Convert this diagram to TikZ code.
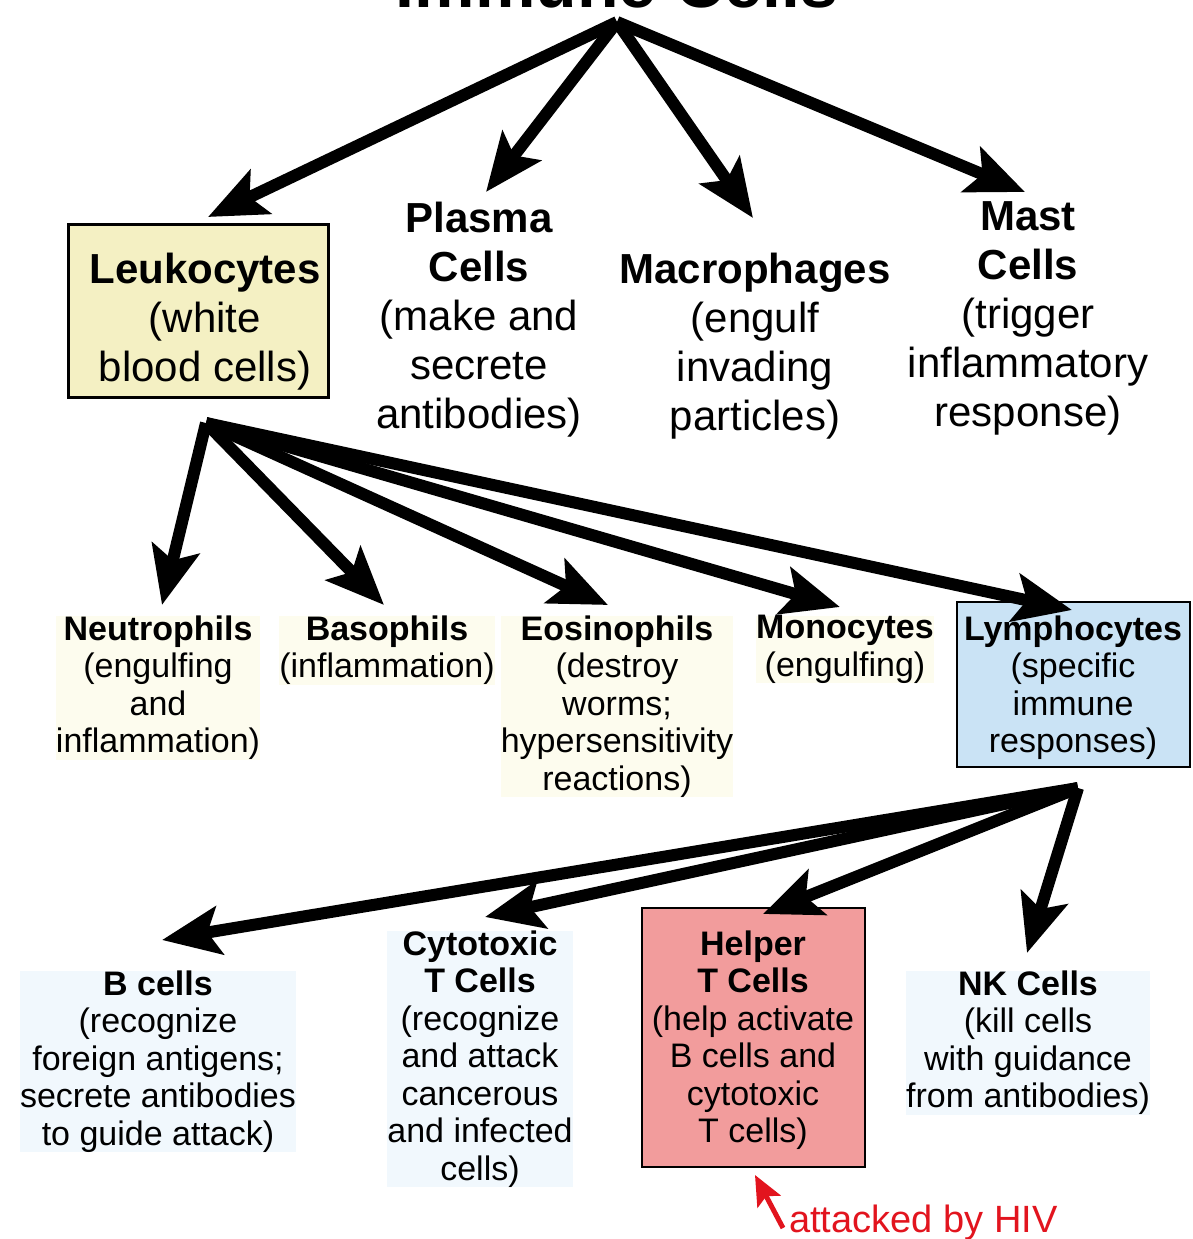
\documentclass[tikz,border=0pt]{standalone}
\usepackage{fontspec}
\setmainfont{Liberation Sans}
\usetikzlibrary{arrows.meta}
\definecolor{leukfill}{HTML}{F4F0C3}
\definecolor{lymphfill}{HTML}{CAE3F5}
\definecolor{helperfill}{HTML}{F29C9C}
\definecolor{hivred}{HTML}{E2141E}
\definecolor{haloY}{HTML}{FDFCEE}
\definecolor{haloB}{HTML}{F1F8FD}
\begin{document}
\begin{tikzpicture}[x=1pt,y=-1pt,
  bigtxt/.style={font=\fontsize{42}{49}\selectfont, align=center, inner sep=0pt, anchor=north},
  smalltxt/.style={font=\fontsize{34}{37.5}\selectfont, align=center, inner sep=0pt, anchor=north},
  yhalo/.style={smalltxt, fill=haloY},
  bhalo/.style={smalltxt, fill=haloB},
  cellbox/.style={draw=black, line width=3pt, inner sep=0pt, minimum width=#1},
  arr/.style={line width=12pt, -{Stealth[length=58pt 0,width=48pt 0,inset=12pt 0]}},
  redarr/.style={hivred, line width=5pt, -{Stealth[length=30pt 0,width=26pt 0,inset=6pt 0]}}
]
\useasboundingbox (0,0) rectangle (1192,1239);
\clip (0,0) rectangle (1192,1239);

% title (cut off at top, as in the reference)
\node[font=\fontsize{68}{68}\selectfont\bfseries, anchor=base, inner sep=0pt] (title) at (617,8) {Immune Cells};
\coordinate (apex) at (617,22);

% boxes
\node[cellbox=260pt, fill=leukfill, minimum height=173pt] (leukbox) at (198,310.5) {};
\node[cellbox=233pt, fill=lymphfill, minimum height=165pt, line width=2pt] (lymphbox) at (1073.5,684.5) {};
\node[cellbox=223pt, fill=helperfill, minimum height=259pt, line width=2pt] (helperbox) at (753.5,1037.5) {};

% level 1
\node[bigtxt] (leuk) at (205,252.5) {\textbf{Leukocytes}\\(white\\blood cells)};
\node[bigtxt] (plasma) at (479,201.5) {\textbf{Plasma}\\\textbf{Cells}\\(make and\\secrete\\antibodies)};
\node[bigtxt] (macro) at (755,252.5) {\textbf{Macrophages}\\(engulf\\invading\\particles)};
\node[bigtxt] (mast) at (1028,201.5) {\textbf{Mast}\\\textbf{Cells}\\(trigger\\inflammatory\\response)};

% level 2
\node[yhalo] (neutro) at (158,615.3) {\textbf{Neutrophils}\\(engulfing\\and\\inflammation)};
\node[yhalo] (baso) at (387,615.3) {\textbf{Basophils}\\(inflammation)};
\node[yhalo] (eosino) at (617,615.3) {\textbf{Eosinophils}\\(destroy\\worms;\\hypersensitivity\\reactions)};
\node[yhalo] (mono) at (845,615.3) {\textbf{Monocytes}\\(engulfing)};
\node[smalltxt] (lympho) at (1073,615.3) {\textbf{Lymphocytes}\\(specific\\immune\\responses)};

% level 3
\node[bhalo] (bcells) at (158,970.3) {\textbf{B cells}\\(recognize\\foreign antigens;\\secrete antibodies\\to guide attack)};
\node[bhalo] (cyto) at (480,930.3) {\textbf{Cytotoxic}\\\textbf{T Cells}\\(recognize\\and attack\\cancerous\\and infected\\cells)};
\node[smalltxt] (helper) at (753,930.3) {\textbf{Helper}\\\textbf{T Cells}\\(help activate\\B cells and\\cytotoxic\\T cells)};
\node[bhalo] (nk) at (1028,970.3) {\textbf{NK Cells}\\(kill cells\\with guidance\\from antibodies)};

% HIV note
\node[font=\fontsize{38}{38}\selectfont, text=hivred, anchor=base west, inner sep=0pt] (hiv) at (789,1232) {attacked by HIV};

% arrow end points
\coordinate (leukIn) at (208,217);
\coordinate (plasmaIn) at (486,192);
\coordinate (macroIn) at (753,218);
\coordinate (mastIn) at (1025,192);
\coordinate (leukOut) at (206,423);
\coordinate (neutroIn) at (162,605);
\coordinate (basoIn) at (384,605);
\coordinate (eosinoIn) at (608,605);
\coordinate (monoIn) at (840,607);
\coordinate (lymphoIn) at (1072,610);
\coordinate (lymphoOut) at (1078,788);
\coordinate (bIn) at (162,940);
\coordinate (cytoIn) at (485,917);
\coordinate (helperIn) at (763,914);
\coordinate (nkIn) at (1027,953);
\coordinate (hivTail) at (783,1228);
\coordinate (hivTip) at (755,1175);

% arrows
\foreach \t in {leukIn,plasmaIn,macroIn,mastIn} \draw[arr] (apex) -- (\t);
\foreach \t in {neutroIn,basoIn,eosinoIn,monoIn,lymphoIn} \draw[arr] (leukOut) -- (\t);
\foreach \t in {bIn,cytoIn,helperIn,nkIn} \draw[arr] (lymphoOut) -- (\t);
\draw[redarr] (hivTail) -- (hivTip);
\end{tikzpicture}
\end{document}
